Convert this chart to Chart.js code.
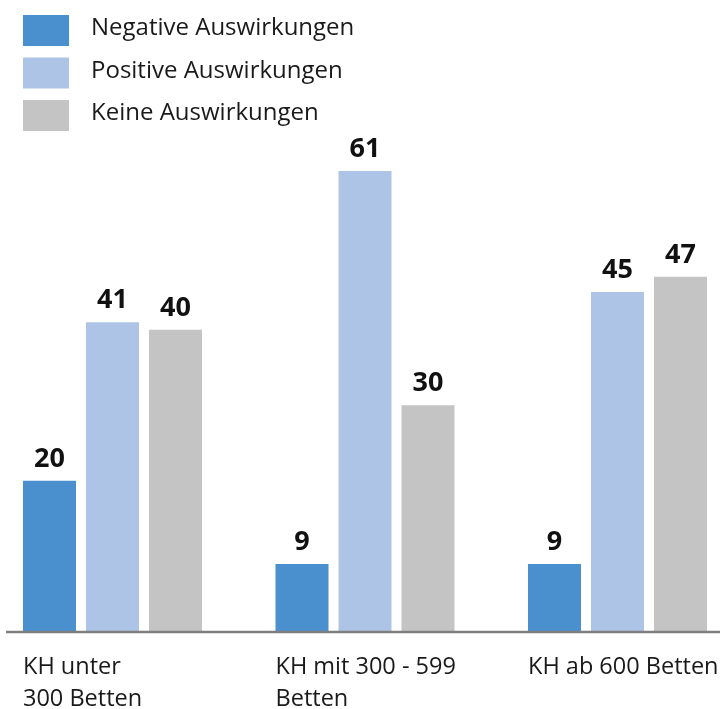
<!DOCTYPE html>
<html><head><meta charset="utf-8">
<script src="https://cdn.jsdelivr.net/npm/chart.js@4"></script>
<style>html,body{margin:0;padding:0;background:#fff}#wrap{position:relative;width:722px;height:709px}</style>
</head><body><div id="wrap"><canvas id="c" width="722" height="709"></canvas></div>
<script>
const categories = [["KH unter","300 Betten"],["KH mit 300 - 599","Betten"],["KH ab 600 Betten"]];
const seriesNames = ["Negative Auswirkungen","Positive Auswirkungen","Keine Auswirkungen"];
const negative = [20, 9, 9];
const positive = [41, 61, 45];
const keine = [40, 30, 47];
const colors = ["#4a8fce", "#aec4e6", "#c4c4c4"];
const FONT = "'Open Sans', 'DejaVu Sans', sans-serif";

const overlay = {
  id: 'overlay',
  afterDraw(chart) {
    const ctx = chart.ctx;
    const y0 = chart.scales.y.getPixelForValue(0);
    ctx.save();
    // axis line
    ctx.strokeStyle = '#7f7f7f';
    ctx.lineWidth = 2.5;
    ctx.beginPath(); ctx.moveTo(6, y0); ctx.lineTo(720, y0); ctx.stroke();
    // value labels
    ctx.fillStyle = '#111';
    ctx.font = "bold 27px " + FONT;
    ctx.textAlign = 'center';
    ctx.textBaseline = 'alphabetic';
    chart.data.datasets.forEach((ds, di) => {
      chart.getDatasetMeta(di).data.forEach((bar, i) => {
        ctx.fillText(String(ds.data[i]), bar.x, bar.y - 14);
      });
    });
    // category labels
    ctx.font = "23.5px " + FONT;
    ctx.textAlign = 'left';
    ctx.fillStyle = '#1a1a1a';
    const m0 = chart.getDatasetMeta(0).data;
    categories.forEach((lines, i) => {
      const x = m0[i].x - m0[i].width / 2;
      lines.forEach((t, li) => ctx.fillText(t, x, y0 + 42 + li * 32));
    });
    // legend
    ctx.font = "24px " + FONT;
    chart.data.datasets.forEach((ds, di) => {
      const top = 15 + di * 42.5;
      ctx.fillStyle = ds.backgroundColor;
      ctx.fillRect(23, top, 46, 31);
      ctx.fillStyle = '#1a1a1a';
      ctx.fillText(ds.label, 91, top + 20);
    });
    ctx.restore();
  }
};

new Chart(document.getElementById('c'), {
  type: 'bar',
  data: {
    labels: categories.map(c => c.join(' ')),
    datasets: [
      { label: seriesNames[0], data: negative, backgroundColor: colors[0], clip: false },
      { label: seriesNames[1], data: positive, backgroundColor: colors[1], clip: false },
      { label: seriesNames[2], data: keine, backgroundColor: colors[2], clip: false }
    ]
  },
  options: {
    responsive: false,
    animation: false,
    devicePixelRatio: 1,
    layout: { padding: { left: 112.5, right: 104.5, top: 103, bottom: 77 } },
    datasets: { bar: { categoryPercentage: 0.7485, barPercentage: 0.8413, borderWidth: 0 } },
    scales: {
      x: { display: false, offset: false },
      y: { display: false, min: 0, max: 70 }
    },
    plugins: { legend: { display: false }, tooltip: { enabled: false } }
  },
  plugins: [overlay]
});
</script></body></html>
